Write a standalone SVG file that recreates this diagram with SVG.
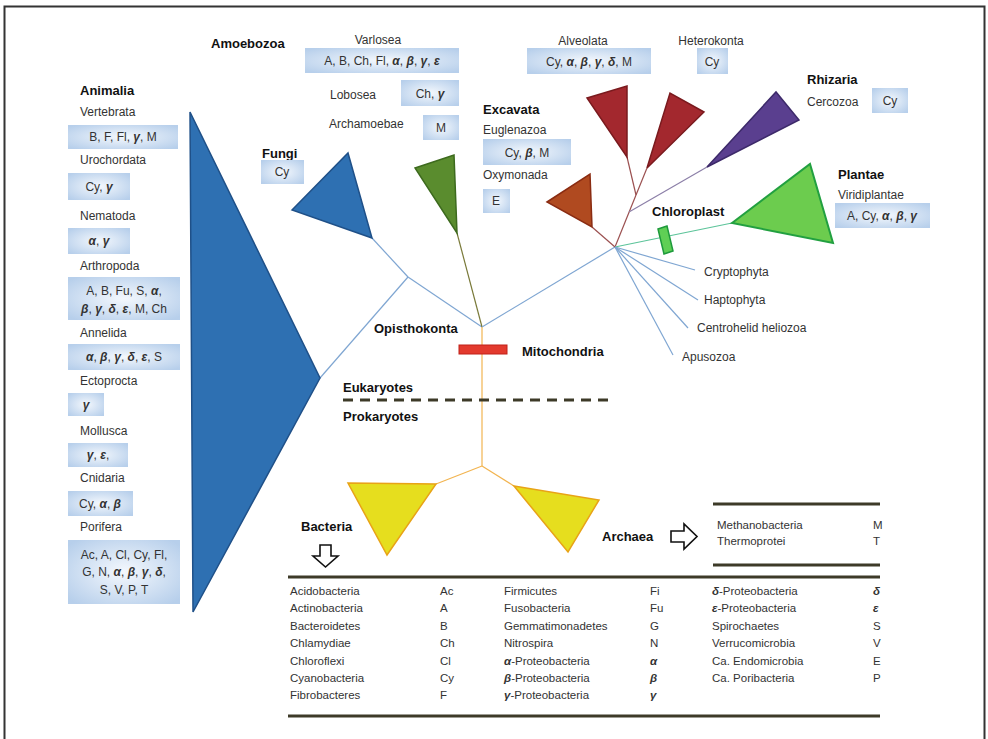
<svg xmlns="http://www.w3.org/2000/svg" width="988" height="739" viewBox="0 0 988 739">
<defs>
<radialGradient id="bx" cx="50%" cy="50%" r="65%">
<stop offset="0" stop-color="#f4f8fd"/>
<stop offset="1" stop-color="#b7cfeb"/>
</radialGradient>
<style>
text{font-family:"Liberation Sans",Arial,sans-serif;fill:#333;font-size:12px}
.t{font-weight:bold;font-size:13px;fill:#111}
.c{text-anchor:middle}
.b{fill:url(#bx)}
.g{font-style:italic;font-weight:bold}
.tb{font-size:11.5px}
.ln{fill:none;stroke-width:1.2}
.bl{stroke:#7fa6d2}
.rule{stroke:#3d3a28;stroke-width:3}
</style>
</defs>
<rect x="0" y="0" width="988" height="739" fill="#fff"/>
<rect x="4.5" y="6.5" width="980" height="745" fill="none" stroke="#333" stroke-width="2"/>

<g id="connectors">
<line class="ln bl" x1="320" y1="378" x2="408" y2="277"/>
<line class="ln bl" x1="408" y1="277" x2="372" y2="238"/>
<line class="ln bl" x1="408" y1="277" x2="482" y2="327"/>
<line class="ln" stroke="#7a7a3a" x1="457" y1="233" x2="482" y2="327"/>
<line class="ln bl" x1="482" y1="327" x2="615" y2="247"/>
<line class="ln" stroke="#f2b450" x1="482" y1="327" x2="482" y2="466"/>
<line class="ln" stroke="#f2b450" x1="482" y1="466" x2="436" y2="484"/>
<line class="ln" stroke="#f2b450" x1="482" y1="466" x2="514" y2="486"/>
<line class="ln" stroke="#9b5050" x1="615" y1="247" x2="592" y2="227"/>
<line class="ln" stroke="#9b5050" x1="615" y1="247" x2="636" y2="195"/>
<line class="ln" stroke="#9b5050" x1="636" y1="195" x2="627" y2="157"/>
<line class="ln" stroke="#9b5050" x1="636" y1="195" x2="647" y2="168"/>
<line class="ln" stroke="#8c7fa8" x1="629" y1="212" x2="707" y2="167"/>
<line class="ln" stroke="#5cc49a" stroke-width="1.6" x1="615" y1="247" x2="732" y2="223"/>
<line class="ln bl" x1="615" y1="247" x2="695" y2="270"/>
<line class="ln bl" x1="615" y1="247" x2="698" y2="300"/>
<line class="ln bl" x1="615" y1="247" x2="688" y2="328"/>
<line class="ln bl" x1="615" y1="247" x2="673" y2="355"/>
<line x1="343" y1="400" x2="612" y2="400" stroke="#3d3a28" stroke-width="3" stroke-dasharray="10 7"/>
</g>

<g id="animalia">
<polygon points="190,112 320,378 193,612" fill="#2e70b2" stroke="#1f5088" stroke-width="1.5"/>
<text class="t" x="80" y="95">Animalia</text>
<text x="80" y="116">Vertebrata</text>
<rect class="b" x="68" y="125" width="110" height="24"/>
<text class="c" x="123" y="141">B, F, Fl, <tspan class="g">γ</tspan>, M</text>
<text x="80" y="164">Urochordata</text>
<rect class="b" x="68" y="173" width="62" height="27"/>
<text class="c" x="99" y="191">Cy, <tspan class="g">γ</tspan></text>
<text x="80" y="220">Nematoda</text>
<rect class="b" x="68" y="228" width="62" height="26"/>
<text class="c" x="99" y="245"><tspan class="g">α</tspan>, <tspan class="g">γ</tspan></text>
<text x="80" y="270">Arthropoda</text>
<rect class="b" x="68" y="277" width="112" height="43"/>
<text class="c" x="124" y="295">A, B, Fu, S, <tspan class="g">α</tspan>,</text>
<text class="c" x="124" y="313"><tspan class="g">β</tspan>, <tspan class="g">γ</tspan>, <tspan class="g">δ</tspan>, <tspan class="g">ε</tspan>, M, Ch</text>
<text x="80" y="337">Annelida</text>
<rect class="b" x="68" y="344" width="112" height="26"/>
<text class="c" x="124" y="361"><tspan class="g">α</tspan>, <tspan class="g">β</tspan>, <tspan class="g">γ</tspan>, <tspan class="g">δ</tspan>, <tspan class="g">ε</tspan>,  S</text>
<text x="80" y="385">Ectoprocta</text>
<rect class="b" x="68" y="393" width="36" height="23"/>
<text class="c" x="86" y="409"><tspan class="g">γ</tspan></text>
<text x="80" y="435">Mollusca</text>
<rect class="b" x="68" y="443" width="60" height="24"/>
<text class="c" x="98" y="459"><tspan class="g">γ</tspan>, <tspan class="g">ε</tspan>,</text>
<text x="80" y="482">Cnidaria</text>
<rect class="b" x="68" y="491" width="65" height="25"/>
<text class="c" x="100" y="508">Cy, <tspan class="g">α</tspan>, <tspan class="g">β</tspan></text>
<text x="80" y="531">Porifera</text>
<rect class="b" x="68" y="540" width="112" height="64"/>
<text class="c" x="124" y="559">Ac, A, Cl, Cy, Fl,</text>
<text class="c" x="124" y="576">G, N, <tspan class="g">α</tspan>, <tspan class="g">β</tspan>, <tspan class="g">γ</tspan>, <tspan class="g">δ</tspan>,</text>
<text class="c" x="124" y="594">S, V, P, T</text>
</g>

<g id="fungi">
<polygon points="292,210 348,153 372,238" fill="#2e70b2" stroke="#1f5088" stroke-width="1.5"/>
<text class="t" x="262" y="158">Fungi</text>
<rect class="b" x="261" y="160" width="43" height="24"/>
<text class="c" x="282" y="176">Cy</text>
</g>

<g id="amoebozoa">
<polygon points="415,168 454,155 457,233" fill="#5a8c2e" stroke="#3d6a1e" stroke-width="1.5"/>
<text class="t" x="211" y="48">Amoebozoa</text>
<text class="c" x="378" y="44">Varlosea</text>
<rect class="b" x="305" y="48" width="154" height="25"/>
<text class="c" x="382" y="65">A, B, Ch, Fl, <tspan class="g">α</tspan>, <tspan class="g">β</tspan>, <tspan class="g">γ</tspan>, <tspan class="g">ε</tspan></text>
<text x="330" y="99">Lobosea</text>
<rect class="b" x="401" y="80" width="58" height="26"/>
<text class="c" x="430" y="98">Ch, <tspan class="g">γ</tspan></text>
<text x="329" y="128">Archamoebae</text>
<rect class="b" x="423" y="115" width="36" height="25"/>
<text class="c" x="441" y="132">M</text>
</g>

<g id="excavata">
<polygon points="547,202 590,174 592,227" fill="#b04a20" stroke="#8a2c12" stroke-width="1.5"/>
<text class="t" x="483" y="114">Excavata</text>
<text x="483" y="134">Euglenazoa</text>
<rect class="b" x="483" y="139" width="88" height="26"/>
<text class="c" x="527" y="157">Cy, <tspan class="g">β</tspan>, M</text>
<text x="483" y="179">Oxymonada</text>
<rect class="b" x="483" y="189" width="27" height="24"/>
<text class="c" x="496" y="205">E</text>
</g>

<g id="alveolata">
<polygon points="587,98 627,86 627,157" fill="#a3282e" stroke="#7a1a1e" stroke-width="1.5"/>
<polygon points="647,168 670,93 704,112" fill="#a3282e" stroke="#7a1a1e" stroke-width="1.5"/>
<text class="c" x="583" y="45">Alveolata</text>
<rect class="b" x="527" y="48" width="124" height="26"/>
<text class="c" x="589" y="66">Cy, <tspan class="g">α</tspan>, <tspan class="g">β</tspan>, <tspan class="g">γ</tspan>, <tspan class="g">δ</tspan>, M</text>
</g>

<g id="heterokonta">
<text class="c" x="711" y="45">Heterokonta</text>
<rect class="b" x="697" y="48" width="31" height="26"/>
<text class="c" x="712" y="66">Cy</text>
</g>

<g id="rhizaria">
<polygon points="707,167 776,92 799,120" fill="#5a3f8f" stroke="#3d2a6a" stroke-width="1.5"/>
<text class="t" x="807" y="84">Rhizaria</text>
<text x="807" y="106">Cercozoa</text>
<rect class="b" x="872" y="88" width="36" height="25"/>
<text class="c" x="890" y="105">Cy</text>
</g>

<g id="plantae">
<polygon points="732,223 810,164 833,243" fill="#6ccc4e" stroke="#22a040" stroke-width="2"/>
<text class="t" x="838" y="179">Plantae</text>
<text x="838" y="199">Viridiplantae</text>
<rect class="b" x="835" y="203" width="95" height="25"/>
<text class="c" x="882" y="220">A, Cy, <tspan class="g">α</tspan>, <tspan class="g">β</tspan>, <tspan class="g">γ</tspan></text>
</g>

<g id="chloroplast">
<polygon points="658,229 667,226 673,251 664,254" fill="#5fcf55" stroke="#1e9a3c" stroke-width="1.5"/>
<text class="t" x="652" y="216">Chloroplast</text>
</g>

<g id="others">
<text x="704" y="276">Cryptophyta</text>
<text x="704" y="304">Haptophyta</text>
<text x="697" y="332">Centrohelid heliozoa</text>
<text x="682" y="361">Apusozoa</text>
</g>

<g id="opisthokonta">
<text class="t" x="374" y="333">Opisthokonta</text>
</g>

<g id="mitochondria">
<rect x="459" y="345" width="48" height="9" fill="#e33a2e" stroke="#c02018" stroke-width="1"/>
<text class="t" x="522" y="356">Mitochondria</text>
</g>

<g id="domains">
<text class="t" x="343" y="392">Eukaryotes</text>
<text class="t" x="343" y="421">Prokaryotes</text>
</g>

<g id="bacteria">
<polygon points="348,483 436,484 387,555" fill="#e6de1e" stroke="#e8a317" stroke-width="1.5"/>
<text class="t" x="301" y="531">Bacteria</text>
<polygon points="320,545 331,545 331,556 338,556 325.5,567 313,556 320,556" fill="#fff" stroke="#111" stroke-width="1.6"/>
</g>

<g id="archaea">
<polygon points="514,486 599,500 568,552" fill="#e6de1e" stroke="#e8a317" stroke-width="1.5"/>
<text class="t" x="602" y="541">Archaea</text>
<polygon points="671,531 684,531 684,524 697,536.5 684,549 684,542 671,542" fill="#fff" stroke="#111" stroke-width="1.6"/>
</g>

<g id="archaea-table">
<line class="rule" x1="713" y1="504" x2="880" y2="504"/>
<line class="rule" x1="713" y1="565" x2="880" y2="565"/>
<text class="tb" x="717" y="529">Methanobacteria</text>
<text class="tb" x="873" y="529">M</text>
<text class="tb" x="717" y="545">Thermoprotei</text>
<text class="tb" x="873" y="545">T</text>
</g>

<g id="bacteria-table">
<line class="rule" x1="288" y1="577" x2="880" y2="577"/>
<line class="rule" x1="288" y1="716" x2="880" y2="716"/>
<text class="tb" x="290" y="595">Acidobacteria</text><text class="tb" x="440" y="595">Ac</text>
<text class="tb" x="290" y="612">Actinobacteria</text><text class="tb" x="440" y="612">A</text>
<text class="tb" x="290" y="630">Bacteroidetes</text><text class="tb" x="440" y="630">B</text>
<text class="tb" x="290" y="647">Chlamydiae</text><text class="tb" x="440" y="647">Ch</text>
<text class="tb" x="290" y="665">Chloroflexi</text><text class="tb" x="440" y="665">Cl</text>
<text class="tb" x="290" y="682">Cyanobacteria</text><text class="tb" x="440" y="682">Cy</text>
<text class="tb" x="290" y="699">Fibrobacteres</text><text class="tb" x="440" y="699">F</text>

<text class="tb" x="504" y="595">Firmicutes</text><text class="tb" x="650" y="595">Fi</text>
<text class="tb" x="504" y="612">Fusobacteria</text><text class="tb" x="650" y="612">Fu</text>
<text class="tb" x="504" y="630">Gemmatimonadetes</text><text class="tb" x="650" y="630">G</text>
<text class="tb" x="504" y="647">Nitrospira</text><text class="tb" x="650" y="647">N</text>
<text class="tb" x="504" y="665"><tspan class="g">α</tspan>-Proteobacteria</text><text class="tb" x="650" y="665"><tspan class="g">α</tspan></text>
<text class="tb" x="504" y="682"><tspan class="g">β</tspan>-Proteobacteria</text><text class="tb" x="650" y="682"><tspan class="g">β</tspan></text>
<text class="tb" x="504" y="699"><tspan class="g">γ</tspan>-Proteobacteria</text><text class="tb" x="650" y="699"><tspan class="g">γ</tspan></text>

<text class="tb" x="712" y="595"><tspan class="g">δ</tspan>-Proteobacteria</text><text class="tb" x="873" y="595"><tspan class="g">δ</tspan></text>
<text class="tb" x="712" y="612"><tspan class="g">ε</tspan>-Proteobacteria</text><text class="tb" x="873" y="612"><tspan class="g">ε</tspan></text>
<text class="tb" x="712" y="630">Spirochaetes</text><text class="tb" x="873" y="630">S</text>
<text class="tb" x="712" y="647">Verrucomicrobia</text><text class="tb" x="873" y="647">V</text>
<text class="tb" x="712" y="665">Ca. Endomicrobia</text><text class="tb" x="873" y="665">E</text>
<text class="tb" x="712" y="682">Ca. Poribacteria</text><text class="tb" x="873" y="682">P</text>
</g>
</svg>
